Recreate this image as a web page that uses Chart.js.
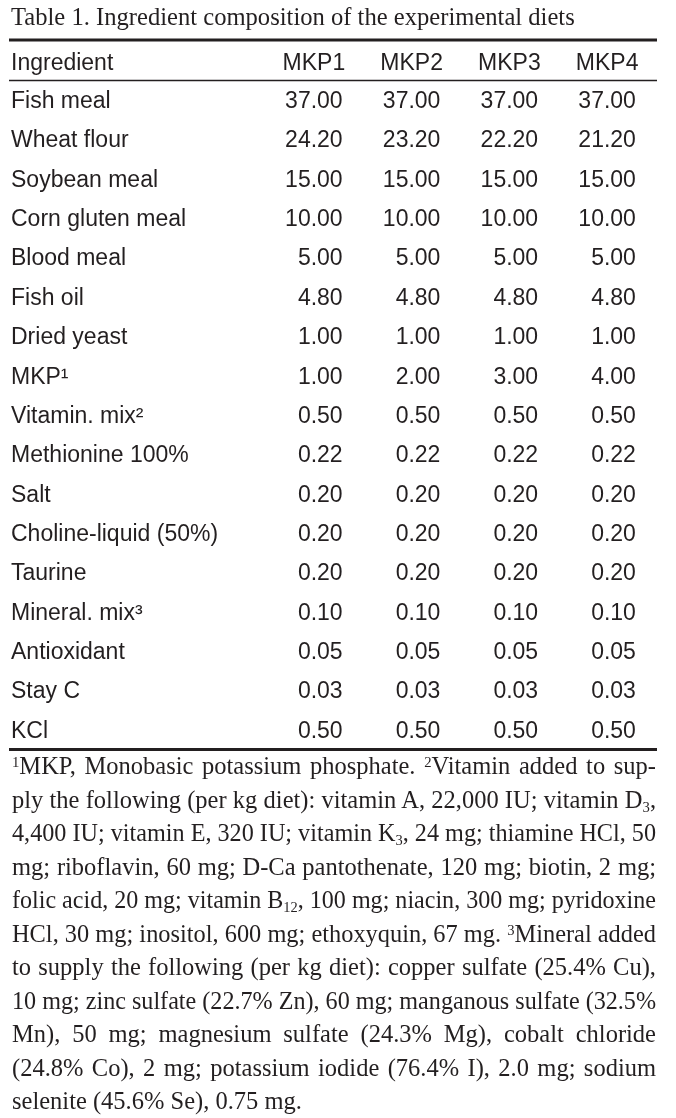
<!DOCTYPE html>
<html>
<head>
<meta charset="utf-8">
<script src="https://cdn.jsdelivr.net/npm/chart.js@4.4.0/dist/chart.umd.min.js"></script>
<style>
  html, body { margin: 0; padding: 0; background: #fff; }
  #wrap { position: relative; width: 676px; height: 1118px; overflow: hidden; }
  #box { position: absolute; left: 0; top: 0; width: 676px; height: 751px; }
  #notes {
    position: absolute; left: 12px; top: 749px; width: 644px;
    font-family: 'Liberation Serif', 'Times New Roman', serif;
    font-size: 24.5px; line-height: 33.5px; color: #231f20;
  }
  #notes div { white-space: nowrap; text-align: justify; text-align-last: justify; transform-origin: 0 50%; }
  #notes div.last { text-align-last: left; }
  #notes sup { font-size: 60%; vertical-align: 0.45em; line-height: 0; }
  #notes sub { font-size: 60%; vertical-align: -0.25em; line-height: 0; }
</style>
</head>
<body>
<div id="wrap">
  <div id="box"><canvas id="c-table1"></canvas></div>
  <div id="notes">
    <div><span><sup>1</sup>MKP, Monobasic potassium phosphate. <sup>2</sup>Vitamin added to sup-</span></div>
    <div><span>ply the following (per kg diet): vitamin A, 22,000 IU; vitamin D<sub>3</sub>,</span></div>
    <div><span>4,400 IU; vitamin E, 320 IU; vitamin K<sub>3</sub>, 24 mg; thiamine HCl, 50</span></div>
    <div><span>mg; riboflavin, 60 mg; D-Ca pantothenate, 120 mg; biotin, 2 mg;</span></div>
    <div><span>folic acid, 20 mg; vitamin B<sub>12</sub>, 100 mg; niacin, 300 mg; pyridoxine</span></div>
    <div><span>HCl, 30 mg; inositol, 600 mg; ethoxyquin, 67 mg. <sup>3</sup>Mineral added</span></div>
    <div><span>to supply the following (per kg diet): copper sulfate (25.4% Cu),</span></div>
    <div><span>10 mg; zinc sulfate (22.7% Zn), 60 mg; manganous sulfate (32.5%</span></div>
    <div><span>Mn), 50 mg; magnesium sulfate (24.3% Mg), cobalt chloride</span></div>
    <div><span>(24.8% Co), 2 mg; potassium iodide (76.4% I), 2.0 mg; sodium</span></div>
    <div class="last"><span>selenite (45.6% Se), 0.75 mg.</span></div>
  </div>
</div>
<script>
var diets = ['MKP1', 'MKP2', 'MKP3', 'MKP4']
var ingredients = ['Fish meal', 'Wheat flour', 'Soybean meal', 'Corn gluten meal', 'Blood meal',
  'Fish oil', 'Dried yeast', 'MKP\u00b9', 'Vitamin. mix\u00b2', 'Methionine 100%', 'Salt',
  'Choline-liquid (50%)', 'Taurine', 'Mineral. mix\u00b3', 'Antioxidant', 'Stay C', 'KCl']
var mkp1 = [37.00, 24.20, 15.00, 10.00, 5.00, 4.80, 1.00, 1.00, 0.50, 0.22, 0.20, 0.20, 0.20, 0.10, 0.05, 0.03, 0.50]
var mkp2 = [37.00, 23.20, 15.00, 10.00, 5.00, 4.80, 1.00, 2.00, 0.50, 0.22, 0.20, 0.20, 0.20, 0.10, 0.05, 0.03, 0.50]
var mkp3 = [37.00, 22.20, 15.00, 10.00, 5.00, 4.80, 1.00, 3.00, 0.50, 0.22, 0.20, 0.20, 0.20, 0.10, 0.05, 0.03, 0.50]
var mkp4 = [37.00, 21.20, 15.00, 10.00, 5.00, 4.80, 1.00, 4.00, 0.50, 0.22, 0.20, 0.20, 0.20, 0.10, 0.05, 0.03, 0.50]
var firstHeader = 'Ingredient'
var title = 'Table 1. Ingredient composition of the experimental diets'

var ink = '#231f20'
var sans = "'Liberation Sans Narrow', 'Liberation Sans', Arial, sans-serif"
var serif = "'Liberation Serif', 'Times New Roman', serif"
var cellFont = '23px ' + sans

var columns = [mkp1, mkp2, mkp3, mkp4]

// cells are points of a category x category grid, the text is drawn at each point
var tableText = {
  id: 'tableText',
  afterDraw: function (chart) {
    var ctx = chart.ctx
    var area = chart.chartArea
    var xs = chart.scales.x
    var ys = chart.scales.y
    ctx.save()
    ctx.fillStyle = ink
    ctx.font = cellFont
    ctx.textBaseline = 'middle'
    var half = ctx.measureText('37.00').width / 2
    var headY = (xs.top + xs.bottom) / 2 + 3

    ctx.textAlign = 'left'
    ctx.fillText(firstHeader, ys.left, headY)
    ctx.textAlign = 'center'
    diets.forEach(function (d, i) {
      ctx.fillText(d, xs.getPixelForValue(i), headY)
    })

    ctx.textAlign = 'right'
    chart.data.datasets.forEach(function (ds, di) {
      var meta = chart.getDatasetMeta(di)
      meta.data.forEach(function (pt, i) {
        ctx.fillText(ds.data[i].v.toFixed(2), pt.x + half, pt.y)
      })
    })

    // rules
    ctx.strokeStyle = ink
    var l = ys.left - 2
    var r = area.right + 1
    ctx.lineWidth = 3
    ctx.beginPath(); ctx.moveTo(l, xs.top + 1.5); ctx.lineTo(r, xs.top + 1.5); ctx.stroke()
    ctx.beginPath(); ctx.moveTo(l, area.bottom - 1.5); ctx.lineTo(r, area.bottom - 1.5); ctx.stroke()
    ctx.lineWidth = 1.3
    ctx.beginPath(); ctx.moveTo(l, area.top - 1.5); ctx.lineTo(r, area.top - 1.5); ctx.stroke()
    ctx.restore()
  }
}

var datasets = diets.map(function (d, di) {
  return {
    label: d,
    data: ingredients.map(function (ing, i) {
      return { x: d, y: ing, v: columns[di][i] }
    }),
    showLine: false,
    pointRadius: 0
  }
})

new Chart(document.getElementById('c-table1').getContext('2d'), {
  type: 'line',
  data: { datasets: datasets },
  plugins: [tableText],
  options: {
    responsive: true,
    maintainAspectRatio: false,
    animation: false,
    events: [],
    layout: { padding: { left: 11, right: 20, top: 0, bottom: 0 } },
    plugins: {
      legend: { display: false },
      tooltip: { enabled: false },
      title: {
        display: true,
        text: title,
        align: 'start',
        color: ink,
        font: { family: serif, size: 24.6, weight: 'normal', lineHeight: 1.2 },
        padding: { top: 4, bottom: 5 }
      }
    },
    scales: {
      x: {
        type: 'category',
        labels: diets,
        position: 'top',
        offset: true,
        grid: { display: false, drawTicks: false },
        border: { display: false },
        ticks: { display: false },
        afterFit: function (s) { s.height = 43.5; s.paddingLeft = 0; s.paddingRight = 0 }
      },
      y: {
        type: 'category',
        labels: ingredients,
        offset: true,
        grid: { display: false, drawTicks: false },
        border: { display: false },
        ticks: {
          crossAlign: 'far',
          color: ink,
          font: { family: sans, size: 23 }
        },
        afterFit: function (s) { s.width = 254; s.paddingTop = 0; s.paddingBottom = 0 }
      }
    }
  }
})

// footnote lines keep the printed line breaks; squeeze any line that is too long
document.querySelectorAll('#notes div').forEach(function (div) {
  var w = div.firstElementChild.getBoundingClientRect().width
  if (w > 644) {
    div.style.width = w + 'px'
    div.style.transform = 'scaleX(' + (644 / w) + ')'
  }
})
</script>
</body>
</html>
